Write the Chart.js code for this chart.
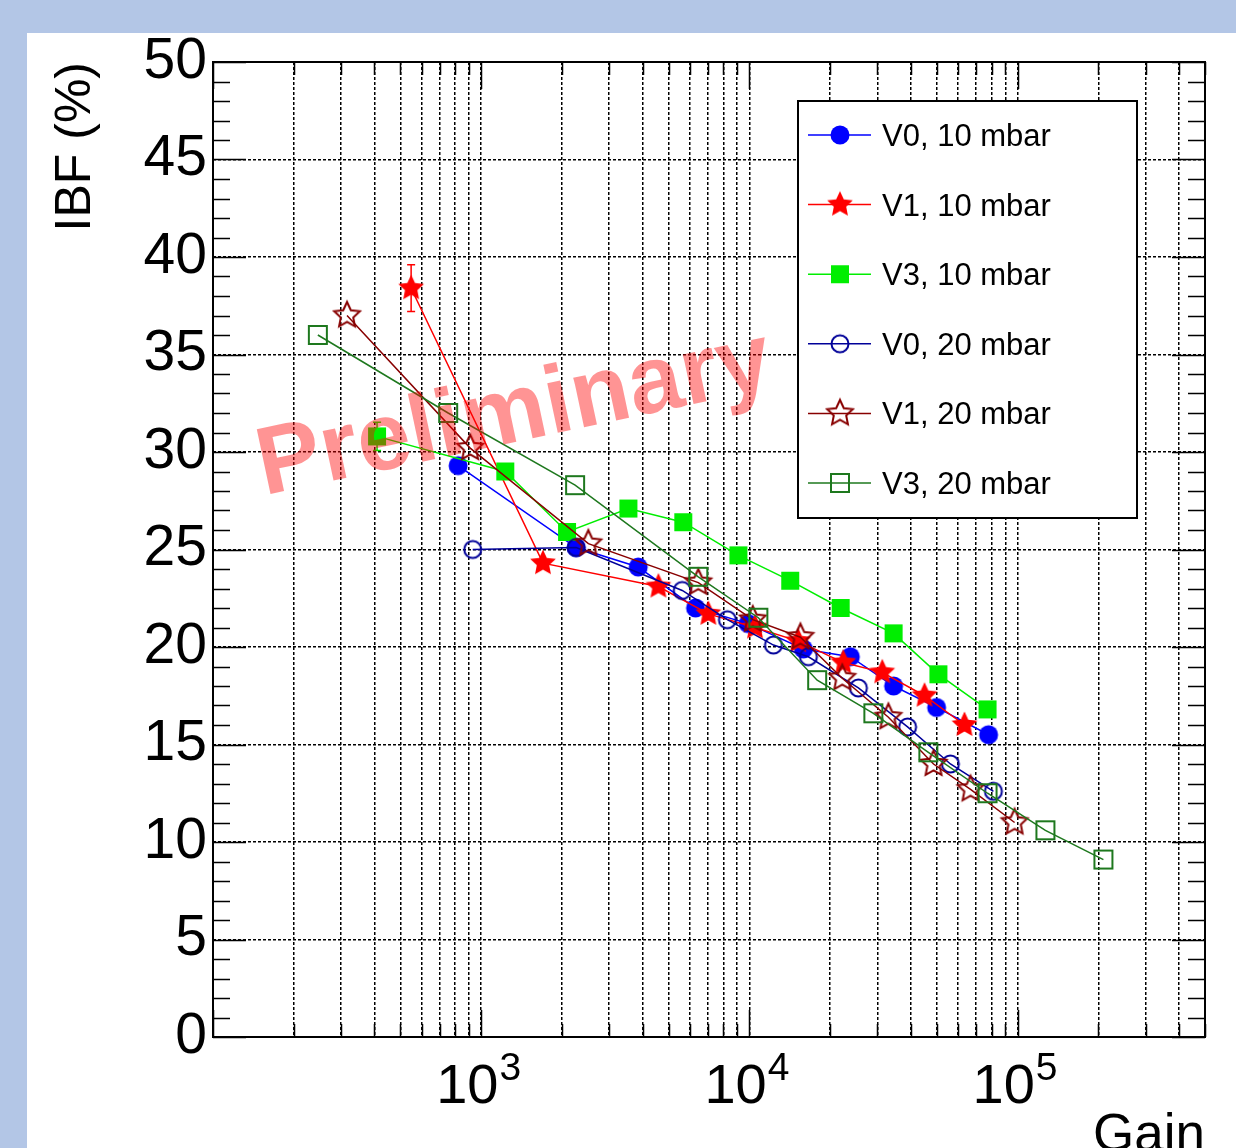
<!DOCTYPE html>
<html>
<head>
<meta charset="utf-8">
<script src="https://cdn.jsdelivr.net/npm/chart.js@4.4.0/dist/chart.umd.min.js"></script>
<style>
  body { margin: 0; background: #b3c6e6; width: 1236px; height: 1148px; overflow: hidden; }
  #panel { position: absolute; left: 27px; top: 33px; width: 1209px; height: 1115px; background: #fff; }
</style>
</head>
<body>
<div id="panel"><canvas id="ibf-gain" width="1209" height="1115"></canvas></div>
<script>
// ============================================================= data

const labels = ["V0, 10 mbar", "V1, 10 mbar", "V3, 10 mbar", "V0, 20 mbar", "V1, 20 mbar", "V3, 20 mbar"];

const gainV0_10 = [820, 2260, 3850, 6300, 9900, 15900, 23800, 34500, 49900, 78000];
const ibfV0_10  = [29.3, 25.1, 24.1, 22.0, 21.2, 19.9, 19.5, 18.0, 16.9, 15.5];

const gainV1_10 = [548, 1700, 4580, 7030, 10500, 15200, 22400, 31300, 45000, 63400];
const ibfV1_10  = [38.4, 24.3, 23.1, 21.7, 21.0, 20.3, 19.2, 18.7, 17.5, 16.0];
const errV1_10  = [1.2, 0, 0, 0, 0, 0, 0, 0, 0, 0];

const gainV3_10 = [409, 1230, 2090, 3540, 5670, 9100, 14200, 21900, 34500, 50700, 77300];
const ibfV3_10  = [30.8, 29.0, 25.9, 27.1, 26.4, 24.7, 23.4, 22.0, 20.7, 18.6, 16.8];
const errV3_10  = [0.72, 0, 0, 0, 0, 0, 0, 0, 0, 0, 0];

const gainV0_20 = [930, 2260, 5620, 8280, 12300, 16600, 25500, 38900, 56200, 81300];
const ibfV0_20  = [25.0, 25.1, 22.9, 21.4, 20.1, 19.5, 17.9, 15.9, 14.0, 12.6];

const gainV1_20 = [316, 910, 2510, 6450, 10300, 15500, 22200, 33000, 48600, 66800, 97500];
const ibfV1_20  = [37.0, 30.2, 25.3, 23.3, 21.4, 20.5, 18.4, 16.4, 14.0, 12.7, 11.0];

const gainV3_20 = [246, 753, 2240, 6450, 10800, 17900, 29000, 46500, 77300, 127000, 209000];
const ibfV3_20  = [36.0, 32.0, 28.3, 23.6, 21.5, 18.3, 16.6, 14.6, 12.5, 10.6, 9.1];

// axis ticks
const gainDecades = [100, 1000, 10000, 100000];
const gainLabelExp = [3, 4, 5];
const ibfTicks = [0, 5, 10, 15, 20, 25, 30, 35, 40, 45, 50];

const FONT = "'Liberation Sans', Arial, sans-serif";

// ============================================================= markers (ROOT style)
function makeMarker(shape, color, filled) {
  const c = document.createElement("canvas");
  c.width = 34; c.height = 34;
  const g = c.getContext("2d");
  g.translate(17, 17);
  g.fillStyle = color;
  g.strokeStyle = color;
  g.lineWidth = 2;
  g.beginPath();
  if (shape === "circle") {
    g.arc(0, 0, filled ? 9.5 : 8.5, 0, 2 * Math.PI);
  } else if (shape === "square") {
    g.rect(-9, -9, 18, 18);
  } else {
    for (let i = 0; i < 10; i++) {
      const r = i % 2 ? 6.5 : 13.5;
      const a = -Math.PI / 2 + i * Math.PI / 5;
      g.lineTo(r * Math.cos(a), r * Math.sin(a));
    }
    g.closePath();
  }
  filled ? g.fill() : g.stroke();
  return c;
}

const series = [
  { gain: gainV0_10, ibf: ibfV0_10, color: "#0000ff", marker: makeMarker("circle", "#0000ff", true) },
  { gain: gainV1_10, ibf: ibfV1_10, err: errV1_10, color: "#ff0000", marker: makeMarker("star", "#ff0000", true) },
  { gain: gainV3_10, ibf: ibfV3_10, err: errV3_10, color: "#00ee00", marker: makeMarker("square", "#00ee00", true) },
  { gain: gainV0_20, ibf: ibfV0_20, color: "#000099", marker: makeMarker("circle", "#000099", false) },
  { gain: gainV1_20, ibf: ibfV1_20, color: "#880000", marker: makeMarker("star", "#880000", false) },
  { gain: gainV3_20, ibf: ibfV3_20, color: "#1e781e", marker: makeMarker("square", "#1e781e", false) }
];

// ============================================================= extra drawing
const rootStyle = {
  id: "rootStyle",
  beforeDatasetsDraw(chart) {
    // error bars
    const ctx = chart.ctx, xs = chart.scales.x, ys = chart.scales.y;
    ctx.save();
    ctx.lineWidth = 1.5;
    series.forEach(s => {
      if (!s.err) return;
      ctx.strokeStyle = s.color;
      s.err.forEach((e, j) => {
        if (!e) return;
        const x = xs.getPixelForValue(s.gain[j]);
        const y1 = ys.getPixelForValue(s.ibf[j] + e);
        const y2 = ys.getPixelForValue(s.ibf[j] - e);
        ctx.beginPath();
        ctx.moveTo(x, y1); ctx.lineTo(x, y2);
        ctx.moveTo(x - 4, y1); ctx.lineTo(x + 4, y1);
        ctx.moveTo(x - 4, y2); ctx.lineTo(x + 4, y2);
        ctx.stroke();
      });
    });
    ctx.restore();
  },
  afterDatasetsDraw(chart) {
    // watermark
    const ctx = chart.ctx;
    ctx.save();
    ctx.translate(493, 408);
    ctx.rotate(-12 * Math.PI / 180);
    ctx.font = "bold 96px " + FONT;
    ctx.fillStyle = "rgba(255, 0, 0, 0.42)";
    ctx.textAlign = "center";
    ctx.textBaseline = "alphabetic";
    ctx.fillText("Preliminary", 0, 0);
    ctx.restore();
  },
  afterDraw(chart) {
    const ctx = chart.ctx, xs = chart.scales.x, ys = chart.scales.y;
    const { left, right, top, bottom } = chart.chartArea;
    ctx.save();

    // frame
    ctx.strokeStyle = "#000";
    ctx.lineWidth = 2;
    ctx.strokeRect(left, top, right - left, bottom - top);

    // y ticks, both sides
    ctx.lineWidth = 1.5;
    ctx.beginPath();
    for (let v = 0; v <= 50; v++) {
      const y = Math.round(ys.getPixelForValue(v)) + 0.5;
      const len = v % 5 === 0 ? 33 : 17;
      ctx.moveTo(left, y); ctx.lineTo(left + len, y);
      ctx.moveTo(right, y); ctx.lineTo(right - len, y);
    }
    // x ticks, bottom and top
    gainDecades.forEach(d => {
      for (let m = 1; m <= 9; m++) {
        const v = m * d;
        if (v < xs.min || v > xs.max) continue;
        const x = Math.round(xs.getPixelForValue(v)) + 0.5;
        const len = m === 1 ? 27 : 13;
        ctx.moveTo(x, bottom); ctx.lineTo(x, bottom - len);
        ctx.moveTo(x, top); ctx.lineTo(x, top + len);
      }
    });
    ctx.stroke();

    // x labels 10^n
    ctx.fillStyle = "#000";
    ctx.textBaseline = "alphabetic";
    ctx.textAlign = "left";
    gainLabelExp.forEach(n => {
      const px = xs.getPixelForValue(Math.pow(10, n));
      ctx.font = "56px " + FONT;
      const w1 = ctx.measureText("10").width;
      ctx.font = "39px " + FONT;
      const w2 = ctx.measureText(String(n)).width;
      const x0 = px - 3 - (w1 + w2) / 2;
      ctx.font = "56px " + FONT;
      ctx.fillText("10", x0, 1070);
      ctx.font = "39px " + FONT;
      ctx.fillText(String(n), x0 + w1 + 1, 1047);
    });

    // axis titles
    ctx.font = "53px " + FONT;
    ctx.textAlign = "right";
    ctx.fillText("Gain", right, 1118);
    ctx.save();
    ctx.translate(63, top);
    ctx.rotate(-Math.PI / 2);
    ctx.font = "50px " + FONT;
    ctx.textAlign = "right";
    ctx.fillText("IBF (%)", 0, 0);
    ctx.restore();

    // legend box
    const bx = 771, by = 68, bw = 339, bh = 417;
    ctx.fillStyle = "#fff";
    ctx.fillRect(bx, by, bw, bh);
    ctx.lineWidth = 2;
    ctx.strokeStyle = "#000";
    ctx.strokeRect(bx, by, bw, bh);
    series.forEach((s, i) => {
      const cy = 102 + i * 69.6;
      ctx.strokeStyle = s.color;
      ctx.lineWidth = 1.5;
      ctx.beginPath();
      ctx.moveTo(781, cy); ctx.lineTo(844, cy);
      ctx.stroke();
      ctx.drawImage(s.marker, 813 - 17, cy - 17);
      ctx.fillStyle = "#000";
      ctx.font = "31px " + FONT;
      ctx.textAlign = "left";
      ctx.fillText(labels[i], 855, cy + 11);
    });

    ctx.restore();
  }
};

// ============================================================= chart
const ibfGain = new Chart(document.getElementById("ibf-gain"), {
  type: "scatter",
  data: {
    datasets: series.map((s, i) => ({
      label: labels[i],
      data: s.gain.map((g, j) => ({ x: g, y: s.ibf[j] })),
      showLine: true,
      borderColor: s.color,
      borderWidth: 1.5,
      pointStyle: s.marker,
      order: -i
    }))
  },
  options: {
    responsive: false,
    animation: false,
    devicePixelRatio: 1,
    layout: { padding: { top: 29, right: 31, left: 0, bottom: 0 } },
    plugins: { legend: { display: false }, tooltip: { enabled: false } },
    scales: {
      x: {
        type: "logarithmic",
        min: 100,
        max: 500000,
        afterBuildTicks: scale => {
          const t = [];
          gainDecades.forEach(d => {
            for (let m = 1; m <= 9; m++) {
              if (m * d <= 500000) t.push({ value: m * d });
            }
          });
          scale.ticks = t;
        },
        afterFit: scale => { scale.height = 111; },
        ticks: { display: false },
        grid: { color: "#000", lineWidth: 1.5, drawTicks: false },
        border: { display: false, dash: [3, 2] }
      },
      y: {
        min: 0,
        max: 50,
        afterBuildTicks: scale => { scale.ticks = ibfTicks.map(v => ({ value: v })); },
        afterFit: scale => { scale.width = 186; scale.paddingTop = 0; scale.paddingBottom = 0; },
        ticks: { color: "#000", padding: 6, font: { family: FONT, size: 57 } },
        grid: { color: "#000", lineWidth: 1.5, drawTicks: false },
        border: { display: false, dash: [3, 2] }
      }
    }
  },
  plugins: [rootStyle]
});
</script>
</body>
</html>
